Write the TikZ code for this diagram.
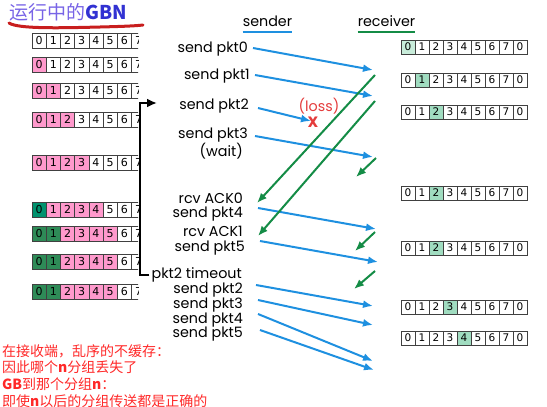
\documentclass[tikz,border=0pt]{standalone}
\usepackage{fontspec}
\usepackage{tikz}
\usepackage{xcolor}
\usetikzlibrary{arrows.meta}
\newfontfamily\lblfont{Poppins}
\newfontfamily\digfont{DejaVu Sans}
\newfontfamily\cjkfont{Noto Sans CJK SC}
\definecolor{pktblue}{RGB}{30,144,224}
\definecolor{ackgreen}{RGB}{20,140,70}
\definecolor{sentpink}{RGB}{255,153,204}
\definecolor{ackdark}{RGB}{46,139,87}
\definecolor{ackteal}{RGB}{0,146,110}
\definecolor{rcvmint}{RGB}{160,220,192}
\definecolor{rcvpale}{RGB}{200,236,218}
\definecolor{notered}{RGB}{255,40,40}
\definecolor{lossred}{RGB}{228,60,60}
\definecolor{titlepurple}{RGB}{120,100,230}
\definecolor{titleblue}{RGB}{50,50,210}
\definecolor{underred}{RGB}{200,30,30}
\tikzset{
  sc/.style={draw=black!75,line width=0.6pt,minimum width=14.2pt,minimum height=15pt,inner sep=0pt,outer sep=0pt,font=\digfont\fontsize{11}{11}\selectfont},
  rc/.style={draw=black!75,line width=0.6pt,minimum width=14pt,minimum height=14pt,inner sep=0pt,outer sep=0pt,font=\digfont\fontsize{10.5}{10.5}\selectfont},
  pk/.style={fill=sentpink},
  gd/.style={fill=ackdark},
  tl/.style={fill=ackteal},
  mt/.style={fill=rcvmint},
  pl/.style={fill=rcvpale},
  lbl/.style={anchor=east,inner sep=0pt,font=\lblfont\fontsize{14.3}{14.3}\selectfont},
  pkt/.style={pktblue,line width=2pt,-{Latex[length=10pt,width=8pt]}},
  ack/.style={ackgreen,line width=2pt,-{Latex[length=10pt,width=8pt]}},
}
\begin{document}
\begin{tikzpicture}[x=1pt,y=-1pt]
\useasboundingbox (0,0) rectangle (547,407);
% title
\node[anchor=west,inner sep=0pt,font=\cjkfont\fontsize{19}{19}\selectfont] (title) at (9,12) {\color{titlepurple}运行中的\color{titleblue}\bfseries GBN};
\draw[underred,line width=3pt,line cap=round] (9,23) .. controls (18,29) and (60,28) .. (100,27) .. controls (120,26.5) and (135,26) .. (143,25);
% sender windows
\begin{scope}
\clip (0,30) rectangle (138,300);
\node[sc] (sa0) at (39.1,40.5) {0};
\node[sc] (sa1) at (53.3,40.5) {1};
\node[sc] (sa2) at (67.5,40.5) {2};
\node[sc] (sa3) at (81.7,40.5) {3};
\node[sc] (sa4) at (95.9,40.5) {4};
\node[sc] (sa5) at (110.1,40.5) {5};
\node[sc] (sa6) at (124.3,40.5) {6};
\node[sc] (sa7) at (138.5,40.5) {7};
\node[sc,pk] (sb0) at (39.1,64.5) {0};
\node[sc] (sb1) at (53.3,64.5) {1};
\node[sc] (sb2) at (67.5,64.5) {2};
\node[sc] (sb3) at (81.7,64.5) {3};
\node[sc] (sb4) at (95.9,64.5) {4};
\node[sc] (sb5) at (110.1,64.5) {5};
\node[sc] (sb6) at (124.3,64.5) {6};
\node[sc] (sb7) at (138.5,64.5) {7};
\node[sc,pk] (sc0) at (39.1,90.5) {0};
\node[sc,pk] (sc1) at (53.3,90.5) {1};
\node[sc] (sc2) at (67.5,90.5) {2};
\node[sc] (sc3) at (81.7,90.5) {3};
\node[sc] (sc4) at (95.9,90.5) {4};
\node[sc] (sc5) at (110.1,90.5) {5};
\node[sc] (sc6) at (124.3,90.5) {6};
\node[sc] (sc7) at (138.5,90.5) {7};
\node[sc,pk] (sd0) at (39.1,119.5) {0};
\node[sc,pk] (sd1) at (53.3,119.5) {1};
\node[sc,pk] (sd2) at (67.5,119.5) {2};
\node[sc] (sd3) at (81.7,119.5) {3};
\node[sc] (sd4) at (95.9,119.5) {4};
\node[sc] (sd5) at (110.1,119.5) {5};
\node[sc] (sd6) at (124.3,119.5) {6};
\node[sc] (sd7) at (138.5,119.5) {7};
\node[sc,pk] (se0) at (39.1,162.5) {0};
\node[sc,pk] (se1) at (53.3,162.5) {1};
\node[sc,pk] (se2) at (67.5,162.5) {2};
\node[sc,pk] (se3) at (81.7,162.5) {3};
\node[sc] (se4) at (95.9,162.5) {4};
\node[sc] (se5) at (110.1,162.5) {5};
\node[sc] (se6) at (124.3,162.5) {6};
\node[sc] (se7) at (138.5,162.5) {7};
\node[sc,tl] (sf0) at (39.1,209.5) {0};
\node[sc,pk] (sf1) at (53.3,209.5) {1};
\node[sc,pk] (sf2) at (67.5,209.5) {2};
\node[sc,pk] (sf3) at (81.7,209.5) {3};
\node[sc,pk] (sf4) at (95.9,209.5) {4};
\node[sc] (sf5) at (110.1,209.5) {5};
\node[sc] (sf6) at (124.3,209.5) {6};
\node[sc] (sf7) at (138.5,209.5) {7};
\node[sc,gd] (sg0) at (39.1,233.5) {0};
\node[sc,gd] (sg1) at (53.3,233.5) {1};
\node[sc,pk] (sg2) at (67.5,233.5) {2};
\node[sc,pk] (sg3) at (81.7,233.5) {3};
\node[sc,pk] (sg4) at (95.9,233.5) {4};
\node[sc,pk] (sg5) at (110.1,233.5) {5};
\node[sc] (sg6) at (124.3,233.5) {6};
\node[sc] (sg7) at (138.5,233.5) {7};
\node[sc,gd] (sh0) at (39.1,261.5) {0};
\node[sc,gd] (sh1) at (53.3,261.5) {1};
\node[sc,pk] (sh2) at (67.5,261.5) {2};
\node[sc,pk] (sh3) at (81.7,261.5) {3};
\node[sc,pk] (sh4) at (95.9,261.5) {4};
\node[sc,pk] (sh5) at (110.1,261.5) {5};
\node[sc] (sh6) at (124.3,261.5) {6};
\node[sc] (sh7) at (138.5,261.5) {7};
\node[sc,gd] (si0) at (39.1,291.5) {0};
\node[sc,gd] (si1) at (53.3,291.5) {1};
\node[sc,pk] (si2) at (67.5,291.5) {2};
\node[sc,pk] (si3) at (81.7,291.5) {3};
\node[sc,pk] (si4) at (95.9,291.5) {4};
\node[sc,pk] (si5) at (110.1,291.5) {5};
\node[sc] (si6) at (124.3,291.5) {6};
\node[sc] (si7) at (138.5,291.5) {7};
\end{scope}
% receiver windows
\node[rc,pl] (ra0) at (408,47) {0};
\node[rc] (ra1) at (422,47) {1};
\node[rc] (ra2) at (436,47) {2};
\node[rc] (ra3) at (450,47) {3};
\node[rc] (ra4) at (464,47) {4};
\node[rc] (ra5) at (478,47) {5};
\node[rc] (ra6) at (492,47) {6};
\node[rc] (ra7) at (506,47) {7};
\node[rc] (ra8) at (520,47) {0};
\node[rc] (rb0) at (408,80) {0};
\node[rc,mt] (rb1) at (422,80) {1};
\node[rc] (rb2) at (436,80) {2};
\node[rc] (rb3) at (450,80) {3};
\node[rc] (rb4) at (464,80) {4};
\node[rc] (rb5) at (478,80) {5};
\node[rc] (rb6) at (492,80) {6};
\node[rc] (rb7) at (506,80) {7};
\node[rc] (rb8) at (520,80) {0};
\node[rc] (rc0) at (408,112) {0};
\node[rc] (rc1) at (422,112) {1};
\node[rc,mt] (rc2) at (436,112) {2};
\node[rc] (rc3) at (450,112) {3};
\node[rc] (rc4) at (464,112) {4};
\node[rc] (rc5) at (478,112) {5};
\node[rc] (rc6) at (492,112) {6};
\node[rc] (rc7) at (506,112) {7};
\node[rc] (rc8) at (520,112) {0};
\node[rc] (rd0) at (408,193) {0};
\node[rc] (rd1) at (422,193) {1};
\node[rc,mt] (rd2) at (436,193) {2};
\node[rc] (rd3) at (450,193) {3};
\node[rc] (rd4) at (464,193) {4};
\node[rc] (rd5) at (478,193) {5};
\node[rc] (rd6) at (492,193) {6};
\node[rc] (rd7) at (506,193) {7};
\node[rc] (rd8) at (520,193) {0};
\node[rc] (re0) at (408,248) {0};
\node[rc] (re1) at (422,248) {1};
\node[rc,mt] (re2) at (436,248) {2};
\node[rc] (re3) at (450,248) {3};
\node[rc] (re4) at (464,248) {4};
\node[rc] (re5) at (478,248) {5};
\node[rc] (re6) at (492,248) {6};
\node[rc] (re7) at (506,248) {7};
\node[rc] (re8) at (520,248) {0};
\node[rc] (rf0) at (408,307) {0};
\node[rc] (rf1) at (422,307) {1};
\node[rc] (rf2) at (436,307) {2};
\node[rc,mt] (rf3) at (450,307) {3};
\node[rc] (rf4) at (464,307) {4};
\node[rc] (rf5) at (478,307) {5};
\node[rc] (rf6) at (492,307) {6};
\node[rc] (rf7) at (506,307) {7};
\node[rc] (rf8) at (520,307) {0};
\node[rc] (rg0) at (408,338) {0};
\node[rc] (rg1) at (422,338) {1};
\node[rc] (rg2) at (436,338) {2};
\node[rc] (rg3) at (450,338) {3};
\node[rc,mt] (rg4) at (464,338) {4};
\node[rc] (rg5) at (478,338) {5};
\node[rc] (rg6) at (492,338) {6};
\node[rc] (rg7) at (506,338) {7};
\node[rc] (rg8) at (520,338) {0};
% column heads
\node[lbl,anchor=center] (snd) at (267.5,21) {sender};
\node[lbl,anchor=center] (rcv) at (386.5,21) {receiver};
\draw[pktblue,line width=2pt] ([yshift=-5pt]snd.south west) -- ([yshift=-5pt]snd.south east);
\draw[ackgreen,line width=2pt] ([yshift=-5pt]rcv.south west) -- ([yshift=-5pt]rcv.south east);
% sender events
\node[lbl] (lp0) at (248,49) {send pkt0};
\node[lbl] (lp1) at (250,76) {send pkt1};
\node[lbl] (lp2) at (249,106) {send pkt2};
\node[lbl] (lp3) at (248,135) {send pkt3};
\node[lbl] (lwait) at (243,151) {(wait)};
\node[lbl] (lack0) at (243,198) {rcv ACK0};
\node[lbl] (lp4) at (243,214) {send pkt4};
\node[lbl] (lack1) at (243,231.5) {rcv ACK1};
\node[lbl] (lp5) at (245,248) {send pkt5};
\node[lbl] (ltmo) at (242,275) {pkt2 timeout};
\node[lbl] (lq2) at (243,290) {send pkt2};
\node[lbl] (lq3) at (243,305) {send pkt3};
\node[lbl] (lq4) at (243,320) {send pkt4};
\node[lbl] (lq5) at (243,334) {send pkt5};
% loss
\node[lbl,anchor=center,text=lossred] (loss) at (319,106) {(loss)};
\node[inner sep=0pt,text=lossred,font=\lblfont\bfseries\fontsize{15}{15}\selectfont] (lx) at (313,122) {X};
% arrow ends
\coordinate (t0) at (253,48);  \coordinate (h0) at (373,70);
\coordinate (t1) at (255,75);  \coordinate (h1) at (373,96);
\coordinate (t2) at (258,108); \coordinate (h2) at (311,121);
\coordinate (t3) at (255,136); \coordinate (h3) at (373,157);
\coordinate (t4) at (258,208); \coordinate (h4) at (376,229);
\coordinate (t5) at (260,241); \coordinate (h5) at (378,262);
\coordinate (u2) at (256,285); \coordinate (v2) at (373,306);
\coordinate (u3) at (258,300); \coordinate (v3) at (373,325);
\coordinate (u4) at (258,314); \coordinate (v4) at (373,361);
\coordinate (u5) at (260,330); \coordinate (v5) at (374,370);
\coordinate (k0) at (375,75);  \coordinate (m0) at (257,203);
\coordinate (k1) at (375,101); \coordinate (m1) at (258,236);
\coordinate (k2) at (376,158); \coordinate (m2) at (356,177);
\coordinate (k3) at (375,232); \coordinate (m3) at (355,251);
\coordinate (k4) at (375,271); \coordinate (m4) at (354,289);
\coordinate (brk) at (157,103);
% packets
\draw[pkt] (t0) -- (h0);
\draw[pkt] (t1) -- (h1);
\draw[pkt] (t2) -- (h2);
\draw[pkt] (t3) -- (h3);
\draw[pkt] (t4) -- (h4);
\draw[pkt] (t5) -- (h5);
\draw[pkt] (u2) -- (v2);
\draw[pkt] (u3) -- (v3);
\draw[pkt] (u4) -- (v4);
\draw[pkt] (u5) -- (v5);
% acks
\draw[ack] (k0) -- (m0);
\draw[ack] (k1) -- (m1);
\draw[ack] (k2) -- (m2);
\draw[ack] (k3) -- (m3);
\draw[ack] (k4) -- (m4);
% timeout bracket
\draw[line width=2.5pt,-{Latex[length=10pt,width=9pt]}] ([xshift=-2pt]ltmo.west) -| ([xshift=-17pt]brk) -- (brk);
% note
\node[anchor=north west,inner sep=0pt,align=left,text=notered,font=\cjkfont\fontsize{14}{16.7}\selectfont] (note) at (2,344) {在接收端，乱序的不缓存：\\因此哪个\textbf{n}分组丢失了\\\textbf{GB}到那个分组\textbf{n}：\\即使\textbf{n}以后的分组传送都是正确的};
\end{tikzpicture}
\end{document}
